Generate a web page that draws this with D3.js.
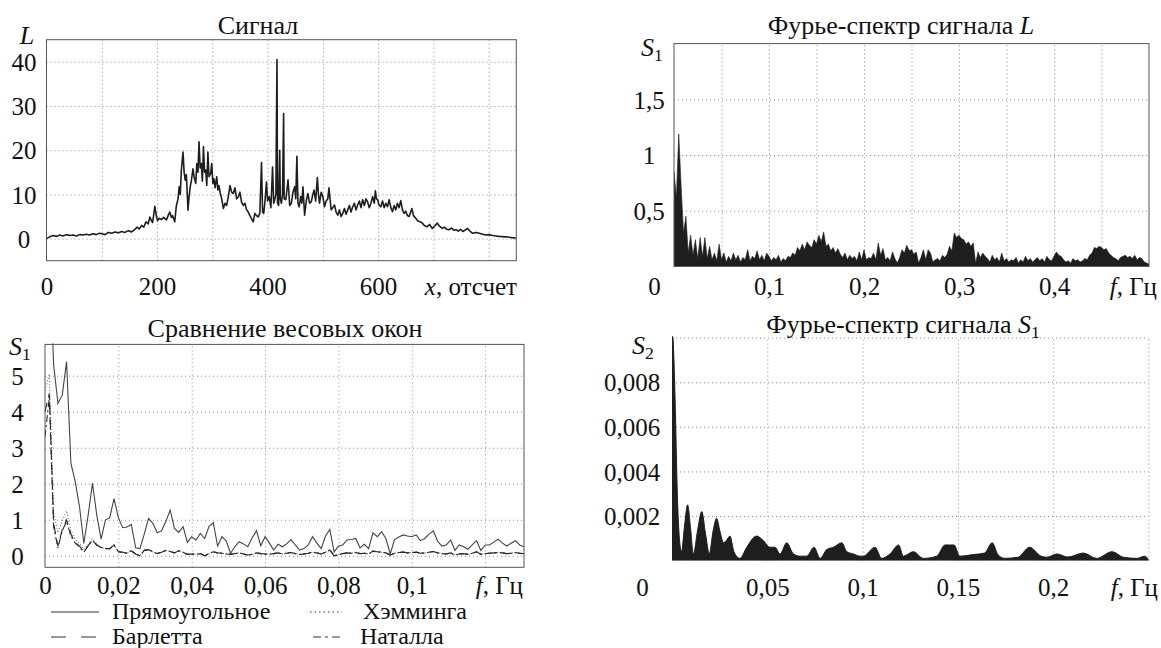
<!DOCTYPE html>
<html>
<head>
<meta charset="utf-8">
<script src="https://cdn.jsdelivr.net/npm/d3@7"></script>
<style>
body { margin: 0; background: #fff; }
.grid line { stroke: #8a8a8a; stroke-width: 1; stroke-dasharray: 1,3; }
.grid .domain { display: none; }
.frame { fill: none; stroke: #555; stroke-width: 1; }
</style>
</head>
<body>
<script>
// ---- signal L (sample index, value)
var sigX = [0, 6, 12, 18, 24, 30, 36, 42, 48, 54, 60, 66, 72, 78, 84, 90, 96, 100, 106, 112, 118, 124, 130, 136, 142, 148, 154, 160, 164, 168, 172, 176, 180, 184, 187, 190, 192, 196, 199, 201, 204, 208, 212, 217, 220, 223, 226, 228, 232, 235,
    238, 240, 242, 244, 247, 249, 251, 253, 256, 258, 260, 262, 265, 267, 270, 272, 274, 276, 278, 280, 282, 284, 286, 288, 290, 292, 294, 297, 299, 301, 303, 305, 308, 310, 312, 314, 317, 320, 323, 326, 329, 332, 335, 338, 341, 344, 347, 350, 353, 356, 359, 362, 365, 368, 371, 374, 377, 380, 383, 386, 389, 391, 393, 395, 398, 400, 403, 406, 409, 411, 413, 415, 417, 418, 420, 422, 423, 425, 427, 429, 430, 433, 435, 437, 440, 443, 446, 449, 451, 453, 455, 457, 460, 462, 464, 467, 470, 473, 476, 479, 482, 484, 487, 490, 492, 494, 497, 500, 503, 506, 509, 511, 513, 515, 518, 521, 524, 527, 530, 533, 536, 539, 542, 545, 548, 551, 554, 557, 560, 563, 566, 569, 572, 575, 578, 581, 584, 587, 590, 593, 595, 597, 599, 602, 605, 608, 611, 614, 617, 620, 623, 626, 629, 632, 635, 638, 641, 644, 647, 650, 653, 656, 659, 661, 664, 668, 672, 676, 680, 684, 689, 693, 698, 702, 707, 711, 716, 720, 724, 728, 733, 737, 741, 745, 749, 753, 757, 762, 766, 771, 777, 783, 789, 795, 801, 807, 813, 819, 825, 831, 837, 843, 849];
var sigY = [0, 0.4, 0.7, 0.5, 0.8, 0.6, 0.9, 0.7, 0.8, 0.6, 0.9, 0.8, 1.0, 0.8, 1.1, 0.9, 1.2, 1.1, 0.9, 1.4, 1.2, 1.5, 1.3, 1.6, 1.4, 1.8, 1.5, 2.1, 2.6, 2.2, 3.0, 2.6, 3.8, 3.3, 4.9, 4.0, 3.6, 7.3, 5.0, 4.0, 4.6, 4.3, 4.8, 4.2, 5.2, 6.0, 4.8, 5.2, 3.8, 7.5,
    9, 11.7, 10, 15.5, 19.6, 15, 13.2, 14.5, 6.4, 9.5, 11.7, 13, 15.8, 14, 12.5, 17, 15, 21.9, 16, 17, 13, 20.8, 15, 15.5, 12, 19.6, 14, 14.7, 17, 12.5, 13.5, 11.5, 14, 11, 12, 10.5, 9, 6.8, 8, 7.5, 9.5, 12, 10.5, 10.2, 11.5, 9, 9.4, 10.5, 8.2, 7.5, 8, 6.5, 6, 5.2, 4.5, 3.8, 5.7, 5.2, 4.9, 5.7, 17.2, 6, 5.7, 8, 12.8, 8.5, 9.5, 7, 16.2, 8, 8.8, 10, 40.5, 8, 7.5, 20, 9, 8, 10, 28.3, 9, 8.8, 11, 13.3, 7.5, 8, 10.5, 11.7, 9, 18.6, 8, 7.2, 9.5, 8, 11.7, 5.3, 8.5, 10.2, 8, 8.3, 10, 11, 8.5, 13.8, 10, 8, 10.5, 9.5, 7.2, 8.5, 9, 11.5, 9, 6.5, 7, 7.6, 6, 5.3, 6.5, 5, 5.7, 6.8, 5.5, 6.5, 7.5, 6, 7.2, 8, 6.5, 7.6, 8.5, 7, 8.8, 7.5, 9, 8.3, 7, 8, 9.5, 8, 10.8, 9, 8.8, 7.5, 7.2, 8.5, 7, 8, 7.2, 8.8, 7, 6.1, 7.5, 6.5, 8, 7, 8.6, 6.5, 5.7, 6.2, 5.2, 5, 6, 6.8, 5.2, 4.6, 4, 3.8, 3.5, 2.9, 2.7, 3.2, 2.3, 2.8, 3.5, 2.8, 2.3, 2.6, 2.1, 2.0, 2.4, 1.9, 2.0, 1.7, 2.1, 1.6, 1.9, 2.3, 1.7, 1.2, 1.4, 1.2, 1.0, 0.8, 0.9, 0.7, 0.6, 0.5, 0.45, 0.4, 0.3, 0.2, 0.1];

// ---- Fourier spectrum of L, frequency step 0.0025 Hz
var specStep = 0.0025;
var specL = [0.85, 0.62, 1.19, 0.72, 0.3, 0.45, 0.12, 0.28, 0.1, 0.24, 0.07, 0.26, 0.09, 0.26, 0.07, 0.18, 0.06, 0.12, 0.05, 0.2,
    0.06, 0.12, 0.04, 0.09, 0.05, 0.12, 0.06, 0.1, 0.04, 0.08, 0.06, 0.15, 0.05, 0.09, 0.07, 0.14, 0.06, 0.1, 0.05, 0.12,
    0.09, 0.05, 0.08, 0.06, 0.1, 0.04, 0.07, 0.05, 0.09, 0.08, 0.12, 0.1, 0.17, 0.14, 0.2, 0.15, 0.22, 0.19, 0.17, 0.24,
    0.2, 0.28, 0.22, 0.31, 0.18, 0.2, 0.14, 0.17, 0.12, 0.16, 0.11, 0.08, 0.12, 0.06, 0.1, 0.07, 0.09, 0.05, 0.13, 0.06,
    0.15, 0.06, 0.08, 0.07, 0.12, 0.06, 0.21, 0.1, 0.16, 0.06, 0.08, 0.05, 0.13, 0.07, 0.03, 0.08, 0.15, 0.12, 0.19, 0.14,
    0.15, 0.11, 0.13, 0.03, 0.08, 0.15, 0.06, 0.15, 0.12, 0.04, 0.06, 0.07, 0.05, 0.1, 0.08, 0.11, 0.18, 0.14, 0.3, 0.26,
    0.28, 0.25, 0.24, 0.2, 0.22, 0.18, 0.21, 0.03, 0.13, 0.08, 0.12, 0.09, 0.07, 0.04, 0.1, 0.06, 0.08, 0.04, 0.12, 0.05,
    0.07, 0.04, 0.06, 0.05, 0.08, 0.03, 0.06, 0.04, 0.09, 0.05, 0.07, 0.04, 0.06, 0.08, 0.05, 0.07, 0.04, 0.09, 0.06, 0.05,
    0.09, 0.13, 0.1, 0.09, 0.06, 0.04, 0.05, 0.03, 0.07, 0.05, 0.06, 0.04, 0.05, 0.07, 0.06, 0.1, 0.12, 0.17, 0.16, 0.18,
    0.17, 0.15, 0.16, 0.12, 0.1, 0.08, 0.07, 0.05, 0.08, 0.09, 0.1, 0.08, 0.09, 0.07, 0.1, 0.06, 0.08, 0.07, 0.04, 0.03, 0.02];

// ---- window comparison, frequency step 1/850 Hz
var winStep = 1 / 850;
var rectWin = [12, 8.5, 5.3, 4.23, 4.46, 5.39, 2.57, 2.06, 1.36, 0.34,
    1.13, 2.01, 1.13, 0.46, 0.99, 1.06, 1.59, 1.06, 0.78, 0.8,
    0.87, 0.22, 0.2, 0.6, 1.04, 0.9, 0.64, 0.69, 0.95, 1.27,
    0.76, 0.65, 0.81, 0.37, 0.53, 0.44, 0.62, 0.48, 0.81, 0.92,
    0.27, 0.53, 0.41, 0.07, 0.25, 0.39, 0.33, 0.25, 0.5, 0.69,
    0.28, 0.53, 0.35, 0.16, 0.32, 0.25, 0.33, 0.45, 0.3, 0.16,
    0.2, 0.3, 0.53, 0.35, 0.2, 0.55, 0.73, 0.11, 0.27, 0.3,
    0.44, 0.45, 0.48, 0.22, 0.32, 0.2, 0.64, 0.53, 0.67, 0.48,
    0.05, 0.45, 0.52, 0.58, 0.55, 0.53, 0.58, 0.42, 0.48, 0.6,
    0.69, 0.4, 0.27, 0.3, 0.44, 0.15, 0.3, 0.25, 0.18, 0.3,
    0.42, 0.15, 0.3, 0.3, 0.38, 0.46, 0.35, 0.27, 0.35, 0.42,
    0.3, 0.25];
var bartlettHead = [4.0, 4.5, 0.9, 0.27, 0.73, 1.0, 0.6, 0.37, 0.27, 0.11, 0.28, 0.44, 0.3];
var hammingHead = [4.6, 5.05, 1.2, 0.64, 0.97, 1.25, 0.7, 0.45, 0.33, 0.18, 0.32, 0.46, 0.33];
var natallaHead = [3.3, 4.4, 0.8, 0.22, 0.7, 0.95, 0.55, 0.35, 0.25, 0.1, 0.27, 0.43, 0.29];
var lowTail = [0.23, 0.2, 0.2, 0.3, 0.11, 0.1, 0.07, 0.14, 0.05, 0.0,
    0.15, 0.17, 0.11, 0.06, 0.1, 0.15, 0.12, 0.08, 0.14, 0.1,
    0.04, 0.05, 0.04, 0.06, 0.0, 0.06, 0.11, 0.08, 0.07, 0.05,
    0.04, 0.06, 0.08, 0.05, 0.02, 0.04, 0.08, 0.06, 0.05, 0.04,
    0.06, 0.08, 0.05, 0.07, 0.09, 0.06, 0.04, 0.05, 0.07, 0.1,
    0.08, 0.05, 0.1, 0.16, 0.0, 0.03, 0.06, 0.08, 0.07, 0.09,
    0.06, 0.07, 0.05, 0.13, 0.11, 0.1, 0.08, 0.02, 0.07, 0.09,
    0.1, 0.08, 0.09, 0.1, 0.07, 0.08, 0.1, 0.12, 0.08, 0.06,
    0.05, 0.08, 0.02, 0.05, 0.06, 0.04, 0.07, 0.11, 0.04, 0.06,
    0.07, 0.08, 0.09, 0.08, 0.06, 0.07, 0.09, 0.07, 0.06];

// ---- Fourier spectrum of S1 (frequency, value)
var s2F = [0, 0.0008, 0.0016, 0.0028, 0.0042, 0.005, 0.0065, 0.0082, 0.0098, 0.0112, 0.0135, 0.0156, 0.0176, 0.0196, 0.0215, 0.0234, 0.0252, 0.027, 0.0285, 0.0304, 0.0325, 0.0357, 0.0392, 0.0444, 0.0479, 0.0514, 0.054, 0.0567, 0.0602, 0.0637, 0.0672, 0.0707, 0.0745, 0.0777, 0.0812, 0.0847, 0.0891, 0.0917, 0.0952, 0.0986, 0.1004, 0.1065, 0.11, 0.1144, 0.1189, 0.1214, 0.1266, 0.1319, 0.1389, 0.1432, 0.148, 0.151, 0.158, 0.164, 0.168, 0.171, 0.1745, 0.1815, 0.1876, 0.1936, 0.1967, 0.202, 0.2077, 0.2158, 0.2228, 0.2309, 0.2369, 0.2439, 0.248, 0.25];
var s2Y = [0.0105, 0.0095, 0.0073, 0.003, 0.0007, 0.0004, 0.0015, 0.0025, 0.0014, 0.0003, 0.0014, 0.0022, 0.0012, 0.0003, 0.0013, 0.0019, 0.0013, 0.0008, 0.0009, 0.0011, 0.0004, 0.0001, 0.0006, 0.0011, 0.0009, 0.0006, 0.0006, 0.0003, 0.0008, 0.0003, 0.0002, 0.0002, 0.0006, 0.0001, 0.0005, 0.0006, 0.0008, 0.0004, 0.0003, 0.0002, 0.0002, 0.0006, 0.0001, 0.0003, 0.0007, 0.0002, 0.0004, 0.0001, 0.0002, 0.0007, 0.0007, 0.0002, 0.00027, 0.00034, 0.0008, 0.00027, 0.0001, 0.00015, 0.0006, 0.0002, 0.00015, 0.0003, 0.00016, 0.00034, 0.0001, 0.0004, 0.00015, 0.0001, 0.0002, 0.00005];

var FONT = '"Liberation Serif"';
var fmt = function(d) { return String(d).replace('.', ','); };

var svg = d3.select('body')
    .append('svg')
    .attr('width', 1161)
    .attr('height', 648)
    .style('background', '#fff');

function makePanel(o) {
    var x = d3.scaleLinear().domain(o.xDom).range([o.l, o.r]);
    var y = d3.scaleLinear().domain(o.yDom).range([o.b, o.t]);
    var g = svg.append('g');

    svg.append('clipPath').attr('id', 'clip' + o.name)
        .append('rect')
        .attr('x', o.l).attr('y', o.t - 1)
        .attr('width', o.r - o.l).attr('height', o.b - o.t + 1);

    // dotted grid
    g.append('g').attr('class', 'grid')
        .attr('transform', 'translate(0,' + o.b + ')')
        .call(d3.axisBottom(x).tickValues(o.xGrid).tickSize(o.t - o.b).tickFormat(''));
    g.append('g').attr('class', 'grid')
        .attr('transform', 'translate(' + o.l + ',0)')
        .call(d3.axisLeft(y).tickValues(o.yGrid).tickSize(o.l - o.r).tickFormat(''));

    // tick labels
    var xt = g.append('g')
        .attr('transform', 'translate(0,' + o.xLabY + ')')
        .call(d3.axisBottom(x).tickValues(o.xTicks).tickSize(0).tickPadding(0).tickFormat(fmt));
    xt.select('.domain').remove();
    xt.attr('font-size', 25);
    xt.selectAll('text').attr('y', 0).attr('dy', '0.35em')
        .style('fill', '#111').style('font-family', FONT);
    if (o.zeroDx) {
        xt.selectAll('.tick').filter(function(d) { return d === 0; })
            .select('text').attr('x', o.zeroDx);
    }

    var yt = g.append('g')
        .attr('transform', 'translate(' + o.yLabX + ',0)')
        .call(d3.axisLeft(y).tickValues(o.yTicks).tickSize(0).tickPadding(0).tickFormat(fmt));
    yt.select('.domain').remove();
    yt.attr('font-size', 25).attr('text-anchor', 'middle');
    yt.selectAll('text').attr('x', 0).attr('dy', '0.35em')
        .style('fill', '#111').style('font-family', FONT);

    var plot = g.append('g').attr('clip-path', 'url(#clip' + o.name + ')');

    if (o.frame) {
        g.append('rect').attr('class', 'frame')
            .attr('x', o.l).attr('y', o.t)
            .attr('width', o.r - o.l).attr('height', o.b - o.t);
    }
    return { x: x, y: y, g: g, plot: plot };
}

function addText(x, y, anchor, size, parts) {
    var t = svg.append('text')
        .attr('x', x).attr('y', y)
        .attr('text-anchor', anchor)
        .attr('font-size', size)
        .style('font-family', FONT)
        .style('fill', '#111');
    parts.forEach(function(p) {
        var s = t.append('tspan').text(p.t);
        if (p.i) s.attr('font-style', 'italic');
        if (p.sub) s.attr('font-size', size * 0.68).attr('dy', 5);
    });
    return t;
}

// ---------- panel 1: signal
var p1 = makePanel({
    name: 'sig', l: 46.5, r: 516.3, t: 39.7, b: 260.7,
    xDom: [0, 850], yDom: [-5, 45],
    xGrid: [100, 200, 300, 400, 500, 600, 700, 800], yGrid: [0, 10, 20, 30, 40],
    xTicks: [0, 200, 400, 600], yTicks: [0, 10, 20, 30, 40],
    xLabY: 286, yLabX: 24, frame: true
});
var sigData = sigX.map(function(v, i) { return [v, sigY[i]]; });
p1.plot.append('path')
    .datum(sigData)
    .attr('fill', 'none')
    .attr('stroke', '#1e1e1e')
    .attr('stroke-width', 1.6)
    .attr('stroke-linejoin', 'round')
    .attr('d', d3.line()
        .x(function(d) { return p1.x(d[0]); })
        .y(function(d) { return p1.y(d[1]); }));

addText(258, 34, 'middle', 26, [{ t: 'Сигнал' }]);
addText(27, 44, 'middle', 26, [{ t: 'L', i: true }]);
addText(517, 295, 'end', 25, [{ t: 'x', i: true }, { t: ', отсчет' }]);

// ---------- panel 2: spectrum of L
var p2 = makePanel({
    name: 'specL', l: 674, r: 1149, t: 43.6, b: 266.4,
    xDom: [0, 0.5], yDom: [0, 2],
    xGrid: [0.05, 0.1, 0.15, 0.2, 0.25, 0.3, 0.35, 0.4, 0.45], yGrid: [0.5, 1, 1.5],
    xTicks: [0, 0.1, 0.2, 0.3, 0.4], yTicks: [0.5, 1, 1.5],
    xLabY: 286, yLabX: 649, zeroDx: -20, frame: true
});
var specData = specL.map(function(v, i) { return [i * specStep, v]; });
p2.plot.append('path')
    .datum(specData)
    .attr('fill', '#1e1e1e')
    .attr('stroke', '#1e1e1e')
    .attr('stroke-width', 0.6)
    .attr('d', d3.area()
        .x(function(d) { return p2.x(d[0]); })
        .y0(p2.y(0))
        .y1(function(d) { return p2.y(d[1]); }));

addText(901, 34, 'middle', 26, [{ t: 'Фурье-спектр сигнала ' }, { t: 'L', i: true }]);
addText(641, 56, 'start', 26, [{ t: 'S', i: true }, { t: '1', sub: true }]);
addText(1157, 295, 'end', 25, [{ t: 'f', i: true }, { t: ', Гц' }]);

// ---------- panel 3: window comparison
var p3 = makePanel({
    name: 'win', l: 45, r: 524, t: 344.4, b: 567.3,
    xDom: [0, 111 / 850], yDom: [-0.32, 5.87],
    xGrid: [0.02, 0.04, 0.06, 0.08, 0.1, 0.12], yGrid: [0, 1, 2, 3, 4, 5],
    xTicks: [0, 0.02, 0.04, 0.06, 0.08, 0.1], yTicks: [0, 1, 2, 3, 4, 5],
    xLabY: 585, yLabX: 17.5, frame: true
});
var series = [
    { name: 'Прямоугольное', vals: rectWin, dash: null, color: '#444' },
    { name: 'Хэмминга', vals: hammingHead.concat(lowTail), dash: '1,2', color: '#666' },
    { name: 'Барлетта', vals: bartlettHead.concat(lowTail), dash: '9,6', color: '#2a2a2a' },
    { name: 'Наталла', vals: natallaHead.concat(lowTail), dash: '7,3,2,3', color: '#2a2a2a' }
];
var winLine = d3.line()
    .x(function(d, i) { return p3.x(i * winStep); })
    .y(function(d) { return p3.y(d); });
series.forEach(function(s) {
    p3.plot.append('path')
        .datum(s.vals)
        .attr('fill', 'none')
        .attr('stroke', s.color)
        .attr('stroke-width', 1.1)
        .attr('stroke-dasharray', s.dash)
        .attr('d', winLine);
});

addText(285, 337, 'middle', 26, [{ t: 'Сравнение весовых окон' }]);
addText(9, 355, 'start', 26, [{ t: 'S', i: true }, { t: '1', sub: true }]);
addText(523, 594, 'end', 25, [{ t: 'f', i: true }, { t: ', Гц' }]);

// legend
var legPos = [[51, 612, 112], [310, 612, 363], [51, 637, 112], [313, 637, 360]];
var legDash = [null, '1.5,3', '15,15', '8,4,3,4'];
series.forEach(function(s, i) {
    var p = legPos[i];
    svg.append('line')
        .attr('x1', p[0]).attr('x2', i % 2 === 0 ? 99 : 342)
        .attr('y1', p[1]).attr('y2', p[1])
        .attr('stroke', '#333')
        .attr('stroke-width', 1.1)
        .attr('stroke-dasharray', legDash[i]);
    addText(p[2], p[1] + 7, 'start', 24, [{ t: s.name }]);
});

// ---------- panel 4: spectrum of S1
var p4 = makePanel({
    name: 'specS', l: 672, r: 1148.5, t: 337.6, b: 560.6,
    xDom: [0, 0.25], yDom: [0, 0.01],
    xGrid: [0.05, 0.1, 0.15, 0.2, 0.25], yGrid: [0.002, 0.004, 0.006, 0.008, 0.01],
    xTicks: [0, 0.05, 0.1, 0.15, 0.2], yTicks: [0.002, 0.004, 0.006, 0.008],
    xLabY: 587, yLabX: 632, zeroDx: -30, frame: false
});
var s2Data = s2F.map(function(v, i) { return [v, s2Y[i]]; });
p4.plot.append('path')
    .datum(s2Data)
    .attr('fill', '#1e1e1e')
    .attr('stroke', '#1e1e1e')
    .attr('stroke-width', 1)
    .attr('d', d3.area()
        .curve(d3.curveMonotoneX)
        .x(function(d) { return p4.x(d[0]); })
        .y0(p4.y(0))
        .y1(function(d) { return p4.y(d[1]); }));

addText(903, 333, 'middle', 26, [{ t: 'Фурье-спектр сигнала ' }, { t: 'S', i: true }, { t: '1', sub: true }]);
addText(632, 354, 'start', 26, [{ t: 'S', i: true }, { t: '2', sub: true }]);
addText(1158, 596, 'end', 25, [{ t: 'f', i: true }, { t: ', Гц' }]);
</script>
</body>
</html>
